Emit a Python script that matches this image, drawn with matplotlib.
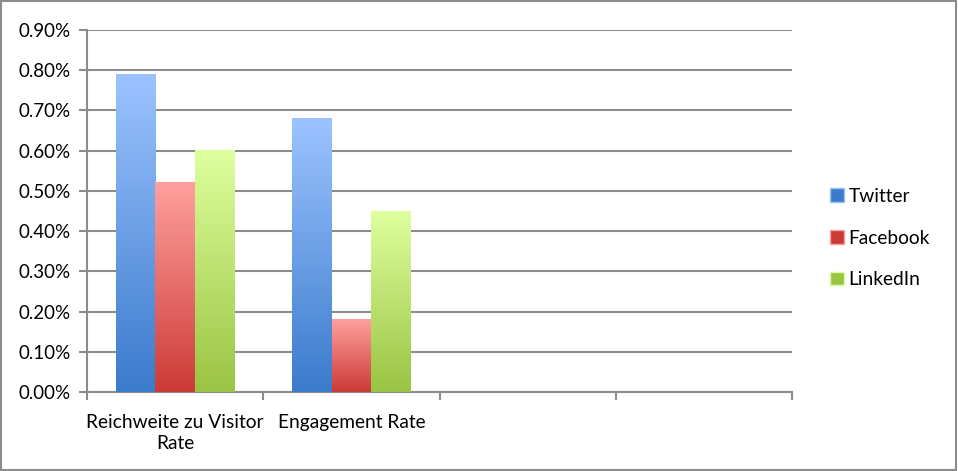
import numpy as np
import matplotlib.pyplot as plt
from matplotlib.colors import LinearSegmentedColormap
from matplotlib.ticker import FuncFormatter
from matplotlib.patches import Patch

plt.rcParams['font.family'] = ['Lato', 'DejaVu Sans']

categories = ['Reichweite zu Visitor\nRate', 'Engagement Rate', '', '']
series = ['Twitter', 'Facebook', 'LinkedIn']
twitter = [0.79, 0.68, None, None]
facebook = [0.52, 0.18, None, None]
linkedin = [0.60, 0.45, None, None]
yticks = [0.0, 0.1, 0.2, 0.3, 0.4, 0.5, 0.6, 0.7, 0.8, 0.9]

# (bottom colour, top colour) of the gradient
grads = [('#3b7bcc', '#9cc3ff'),
         ('#cc3a36', '#ffa09e'),
         ('#9ac444', '#deff9d')]

fig = plt.figure(figsize=(9.58, 4.71), dpi=100)
ax = fig.add_axes([87/958, 1 - 392/471, (792 - 87)/958, (392 - 30)/471])

bw = 0.223
x = np.arange(len(categories))
gradient = np.linspace(0, 1, 256).reshape(-1, 1)

for i, (name, vals) in enumerate(zip(series, [twitter, facebook, linkedin])):
    cmap = LinearSegmentedColormap.from_list(name, grads[i])
    xs = [xx for xx, v in zip(x, vals) if v is not None]
    hs = [v for v in vals if v is not None]
    bars = ax.bar(np.array(xs) + (i - 1) * bw, hs, bw, color='none',
                  edgecolor='none', label=name, zorder=3)
    for b in bars:
        x0, w, h = b.get_x(), b.get_width(), b.get_height()
        ax.imshow(gradient, extent=[x0, x0 + w, 0, h], origin='lower',
                  cmap=cmap, aspect='auto', zorder=3)

ax.set_xlim(-0.5, len(categories) - 0.5)
ax.set_ylim(0, 0.9)
ax.set_yticks(yticks)
ax.yaxis.set_major_formatter(FuncFormatter(lambda v, p: '%.2f%%' % v))
ax.yaxis.grid(True, color='#8c8c8c', linewidth=1.5, zorder=0)
ax.set_axisbelow(True)

ax.set_xticks(np.arange(len(categories) + 1) - 0.5)
ax.set_xticklabels([])
ax.set_xticks(x, categories, minor=True)
ax.tick_params(axis='x', which='minor', length=0, pad=16, labelsize=13.8)
for t in ax.get_xticklabels(minor=True):
    t.set_linespacing(1.25)
ax.tick_params(axis='x', which='major', length=6, width=1.5, color='#8c8c8c', direction='out')
ax.tick_params(axis='y', length=6, width=1.5, color='#8c8c8c', direction='out',
               labelsize=13.5, pad=6)

for s in ['top', 'right']:
    ax.spines[s].set_visible(False)
for s in ['left', 'bottom']:
    ax.spines[s].set_color('#8c8c8c')
    ax.spines[s].set_linewidth(1.5)

# legend proxies
handles = [Patch(facecolor=grads[i][0], edgecolor=grads[i][1]) for i in range(3)]
fig.legend(handles, series, loc='center left', bbox_to_anchor=(813/958, 1 - 238/471),
           frameon=False, fontsize=13.8, handlelength=0.7, handleheight=0.7,
           handletextpad=0.25, labelspacing=1.3)

# outer frame
fig.patches.append(plt.Rectangle((0.001, 0.002), 0.997, 0.995, transform=fig.transFigure,
                                 fill=False, edgecolor='#8c8c8c', linewidth=1.5))

fig.savefig('out.png', dpi=100)
